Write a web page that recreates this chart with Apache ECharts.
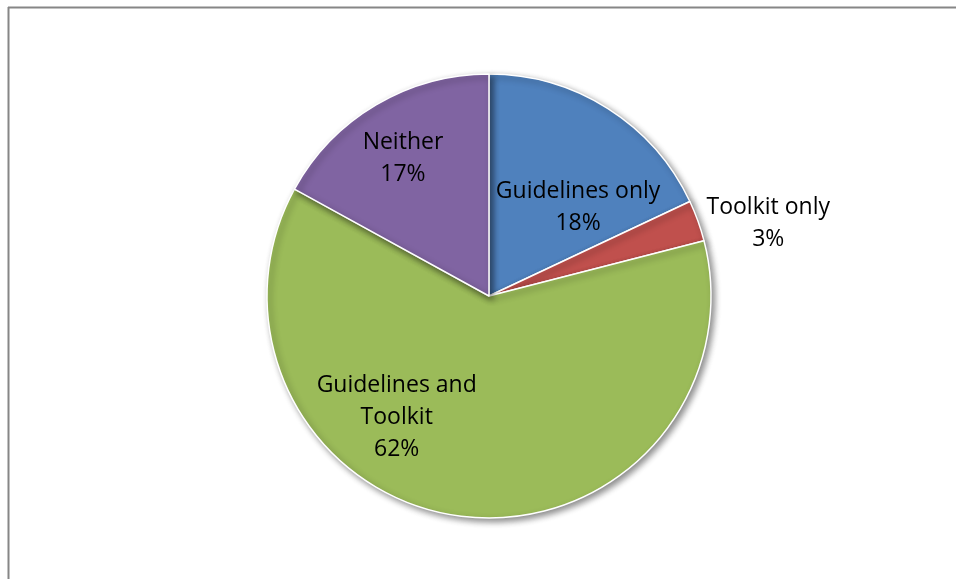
<!DOCTYPE html>
<html>
<head>
<meta charset="utf-8">
<script src="https://cdn.jsdelivr.net/npm/echarts@6/dist/echarts.min.js"></script>
<style>
  html, body { margin: 0; padding: 0; background: #ffffff; }
  #chart { width: 956px; height: 579px; }
</style>
</head>
<body>
<div id="chart"></div>
<script>
// Share of respondents by which resources they use
const categories = ['Guidelines only', 'Toolkit only', 'Guidelines and\nToolkit', 'Neither'];
const percentages = [18, 3, 62, 17];
const sliceColors = ['#4F81BD', '#C0504D', '#9BBB59', '#8064A2'];

// Label nudges away from the default inside position
const labelOffsets = [[28, 8], [172, -34], [-78, 8], [-28, -39]];

const chart = echarts.init(document.getElementById('chart'), null, { renderer: 'canvas' });

const pieData = categories.map((name, i) => ({
  name: name,
  value: percentages[i],
  itemStyle: { color: sliceColors[i] },
  label: { offset: labelOffsets[i] }
}));

chart.setOption({
  animation: false,
  backgroundColor: '#ffffff',
  graphic: [
    {
      type: 'line',
      shape: { x1: 8, y1: 7.5, x2: 956, y2: 7.5 },
      style: { stroke: '#868686', lineWidth: 2 }
    },
    {
      type: 'line',
      shape: { x1: 8.5, y1: 7, x2: 8.5, y2: 579 },
      style: { stroke: '#868686', lineWidth: 2 }
    }
  ],
  series: [{
    type: 'pie',
    center: [489, 296],
    radius: 222,
    startAngle: 90,
    clockwise: true,
    avoidLabelOverlap: false,
    itemStyle: {
      borderColor: '#ffffff',
      borderWidth: 1.5,
      shadowColor: 'rgba(0,0,0,0.45)',
      shadowBlur: 6,
      shadowOffsetX: 3,
      shadowOffsetY: 3
    },
    label: {
      show: true,
      position: 'inside',
      formatter: p => p.name + '\n' + p.value + '%',
      color: '#000000',
      fontFamily: 'Open Sans',
      fontSize: 23,
      lineHeight: 32,
      align: 'center'
    },
    labelLine: { show: false },
    emphasis: { disabled: true },
    data: pieData
  }]
});
</script>
</body>
</html>
